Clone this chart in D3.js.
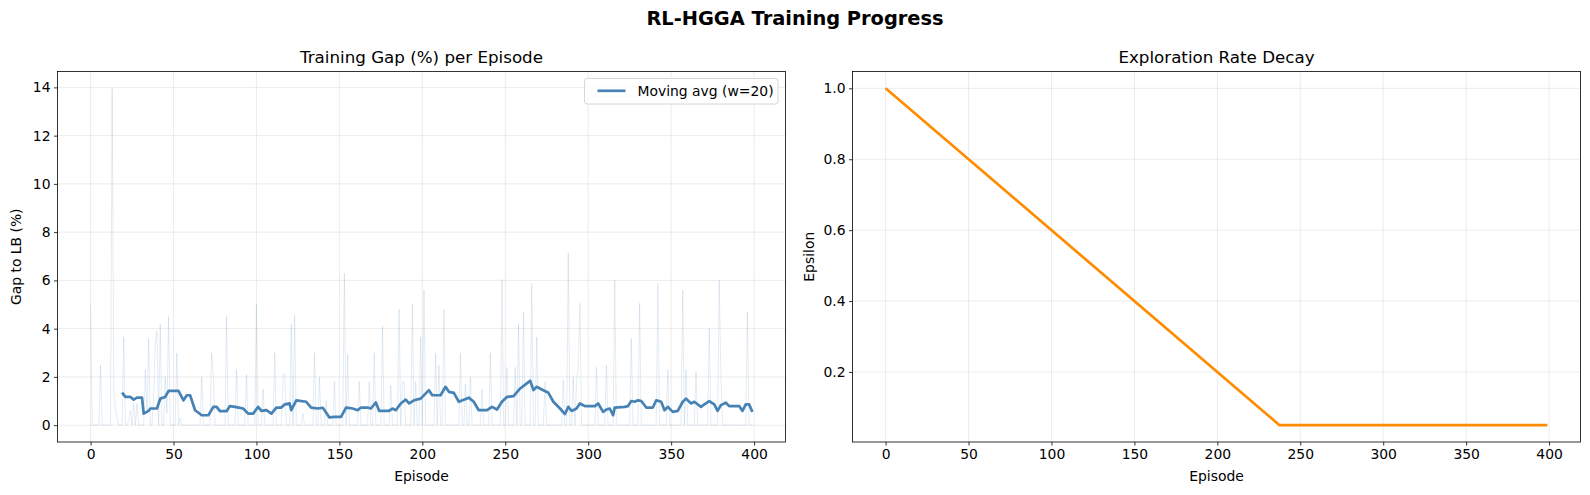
<!DOCTYPE html>
<html>
<head>
<meta charset="utf-8">
<script src="https://cdn.jsdelivr.net/npm/d3@7"></script>
<style>
  html, body { margin: 0; padding: 0; background: #fff; }
  svg { display: block; }
  text { font-family: "DejaVu Sans", sans-serif; fill: #000; }
</style>
</head>
<body>
<svg id="chart" width="1590" height="495"></svg>
<script>
// ---------------- DATA ----------------
const suptitle = "RL-HGGA Training Progress";
const leftTitle = "Training Gap (%) per Episode";
const rightTitle = "Exploration Rate Decay";
const xLabel = "Episode";
const leftYLabel = "Gap to LB (%)";
const rightYLabel = "Epsilon";
const legendLabel = "Moving avg (w=20)";

const xTicks = [0, 50, 100, 150, 200, 250, 300, 350, 400];
const gapTicks = [0, 2, 4, 6, 8, 10, 12, 14];
const epsTicks = [0.2, 0.4, 0.6, 0.8, 1.0];

// raw gap per episode (0..399)
const rawGap = [
  5.0,0,0,0,0,0,2.5,0,0,0,0,0,0,13.96,1.45,0.6,0.3,0,0,0,
  3.66,0,0,0.2,0.6,0,0.9,0,0.9,0,0,0,0,2.3,0.5,3.6,0,0,1.2,3.4,
  3.9,0,4.2,0,0,2.0,0.5,4.5,0,0,0,0,3.0,0,0.3,0,0,0,0,0,
  0,0,0,0,0,0,0,2.0,0,0,0,0,0,3.0,2.1,0,0,0,0,0,
  0,0,4.5,0,0,0,0,0,2.3,0,0,0,0,0,2.1,0,0,0,0,0,
  5.0,0,0,0,1.5,0,0,0,0,0,0,3.0,0,0,0,0,2.1,2.1,0,0,
  0,4.2,0,4.55,0,0,0,0,0.5,0,0,0,0,0,0,3.0,0,0,2.0,0,
  0,0,1.0,0,0,0,0,1.8,0,0,0,0,0,6.29,0,2.95,0,0,0,0,
  0,0,1.8,0,0,0,0,0,1.8,0,0,3.0,0,0,0,0,4.1,0,0,0,
  0,1.66,0,0,0,0,4.8,0,1.8,1.8,0,0,0,0,5.0,0,1.8,0,0,3.66,
  0,5.6,0,0,0,0,0,0,2.97,0,2.5,0,0,4.8,0,0,0,0,0,0,
  0,0,0,3.0,0,0,1.7,0,0,2.0,0,0,0,0,0,0,1.5,0,0,0,
  0,3.0,0,0,0,0,0,0,6.04,0,0,2.4,0,0,0,0,2.4,0,4.2,0,
  0,4.7,0,0,0,0,5.87,0,0,3.66,0,0,0,0,1.8,0,0,0,0,0,
  0,0,0,0,0,1.86,0,0,7.15,0,0,2.0,0,1.8,2.4,5.05,0,0,0,0,
  0,0,0,0,0,2.4,0,0,0,0,0,2.5,0,0,0,0,6.0,0,0,0,
  0,0,0,0,0,0,3.6,0,0,0,0,5.05,0,0,0,0,0,0,0,0,
  0,0,5.87,0,0,0,0,0,2.3,0,0,0,0,0,0,0,0,5.6,0,2.3,
  0,0,0,0,0,2.2,0,0,0,0,0,0,0,4.0,0,0,0,0,0,6.0,
  2.0,0,0,0,0,0,0,0,0,0,0,0,0,0,0,0,4.7,0,0,0
];

// moving average (w=20), read at these episodes
const maEpisodes = [19,21,24,26,28,31,32,35,36,40,42,45,47,53,56,58,60,63,67,71,74,76,78,82,84,87,92,95,98,101,103,106,109,112,115,117,120,121,124,130,133,137,140,144,147,151,154,158,161,163,167,169,172,174,180,182,184,187,190,192,195,199,204,206,211,214,216,219,222,228,231,234,239,242,245,248,251,255,259,263,265,267,269,272,276,279,283,286,288,290,293,295,298,304,306,309,311,313,315,316,322,324,326,328,330,332,335,339,341,344,346,348,351,354,357,359,362,364,368,370,373,376,378,380,383,385,391,393,395,397,399];
const maValues = [1.35,1.17,1.17,1.06,1.14,1.14,0.48,0.59,0.69,0.69,1.1,1.17,1.42,1.42,1.03,1.24,1.24,0.62,0.41,0.41,0.76,0.76,0.58,0.58,0.79,0.76,0.69,0.48,0.48,0.76,0.59,0.62,0.48,0.73,0.73,0.86,0.9,0.62,1.03,0.97,0.73,0.69,0.72,0.32,0.34,0.34,0.73,0.69,0.62,0.73,0.73,0.69,0.94,0.59,0.59,0.69,0.62,0.9,1.06,0.9,1.03,1.1,1.45,1.24,1.24,1.59,1.38,1.34,0.97,1.14,0.97,0.62,0.62,0.76,0.65,0.97,1.17,1.2,1.52,1.73,1.84,1.45,1.59,1.48,1.34,0.97,0.69,0.46,0.76,0.59,0.69,0.9,0.79,0.79,0.9,0.55,0.65,0.69,0.41,0.73,0.76,0.79,1.0,0.97,1.03,1.0,0.73,0.73,1.03,0.97,0.62,0.76,0.55,0.59,0.97,1.1,0.9,0.97,0.76,0.86,1.0,0.86,0.59,0.83,0.93,0.79,0.79,0.59,0.86,0.86,0.55];

// epsilon schedule breakpoints
const epsEpisodes = [0, 237.5, 399];
const epsValues = [1.0, 0.05, 0.05];

// ---------------- LAYOUT ----------------
const svg = d3.select("#chart");
const axTop = 71.5, axBottom = 442;
const leftBox = { x0: 57.5, x1: 785.5 };
const rightBox = { x0: 852.5, x1: 1580.5 };
const FS = 13.9;
const gridColor = "#b0b0b0";

svg.append("rect").attr("width", 1590).attr("height", 495).attr("fill", "#fff");

function pad(ext, frac) { const d = (ext[1] - ext[0]) * frac; return [ext[0] - d, ext[1] + d]; }
const xDomain = pad([0, rawGap.length - 1], 0.05);

function makeAxes(box, yDomain, yTicks, yFmt, title, yLabel, yLabelX, id) {
  const x = d3.scaleLinear().domain(xDomain).range([box.x0, box.x1]);
  const y = d3.scaleLinear().domain(yDomain).range([axBottom, axTop]);
  const g = svg.append("g");
  svg.append("clipPath").attr("id", id).append("rect")
    .attr("x", box.x0).attr("y", axTop).attr("width", box.x1 - box.x0).attr("height", axBottom - axTop);

  // grid
  const grid = g.append("g").attr("stroke", gridColor).attr("stroke-opacity", 0.3).attr("stroke-width", 0.8);
  xTicks.forEach(t => grid.append("line").attr("x1", x(t)).attr("x2", x(t)).attr("y1", axTop).attr("y2", axBottom));
  yTicks.forEach(t => grid.append("line").attr("x1", box.x0).attr("x2", box.x1).attr("y1", y(t)).attr("y2", y(t)));

  const plot = g.append("g").attr("clip-path", `url(#${id})`);

  // axes via d3
  const xAxis = d3.axisBottom(x).tickValues(xTicks).tickSize(3.5).tickPadding(3.5).tickFormat(d3.format("d"));
  const yAxis = d3.axisLeft(y).tickValues(yTicks).tickSize(3.5).tickPadding(3.5).tickFormat(yFmt);
  const axG = svg.append("g");
  const xa = axG.append("g").attr("transform", `translate(0,${axBottom})`).call(xAxis);
  const ya = axG.append("g").attr("transform", `translate(${box.x0},0)`).call(yAxis);
  [xa, ya].forEach(a => {
    a.select(".domain").remove();
    a.selectAll("line").attr("stroke", "#000").attr("stroke-width", 0.8);
    a.selectAll("text").attr("font-family", "DejaVu Sans").attr("font-size", FS).attr("fill", "#000");
  });
  // spines
  axG.append("rect").attr("x", box.x0).attr("y", axTop).attr("width", box.x1 - box.x0).attr("height", axBottom - axTop)
    .attr("fill", "none").attr("stroke", "#000").attr("stroke-width", 0.8);

  // titles
  svg.append("text").attr("x", (box.x0 + box.x1) / 2).attr("y", axTop - 8.3)
    .attr("text-anchor", "middle").attr("font-size", 16.7).text(title);
  svg.append("text").attr("x", (box.x0 + box.x1) / 2).attr("y", 481)
    .attr("text-anchor", "middle").attr("font-size", FS).text(xLabel);
  svg.append("text").attr("transform", `translate(${yLabelX},${(axTop + axBottom) / 2}) rotate(-90)`)
    .attr("text-anchor", "middle").attr("font-size", FS).text(yLabel);
  return { x, y, plot };
}

// suptitle
svg.append("text").attr("x", 795).attr("y", 24.5).attr("text-anchor", "middle")
  .attr("font-size", 19.4).attr("font-weight", "bold").text(suptitle);

// left chart
const gapMax = d3.max(rawGap);
const L = makeAxes(leftBox, pad([0, gapMax], 0.05), gapTicks, d3.format("d"), leftTitle, leftYLabel, 20.5, "clipL");
L.plot.append("path")
  .datum(rawGap.map((v, i) => [i, v]))
  .attr("d", d3.line().x(d => L.x(d[0])).y(d => L.y(d[1])))
  .attr("fill", "none").attr("stroke", "steelblue").attr("stroke-opacity", 0.25).attr("stroke-width", 0.6);
L.plot.append("path")
  .datum(maEpisodes.map((e, i) => [e, maValues[i]]))
  .attr("d", d3.line().x(d => L.x(d[0])).y(d => L.y(d[1])))
  .attr("fill", "none").attr("stroke", "steelblue").attr("stroke-width", 2.7).attr("stroke-linejoin", "round");

// legend
const lg = svg.append("g");
lg.append("rect").attr("x", 584.5).attr("y", 78.5).attr("width", 193.5).attr("height", 25.5).attr("rx", 2.8)
  .attr("fill", "#fff").attr("fill-opacity", 0.8).attr("stroke", "#cccccc").attr("stroke-width", 0.8);
lg.append("line").attr("x1", 597.5).attr("x2", 625.5).attr("y1", 90.8).attr("y2", 90.8)
  .attr("stroke", "steelblue").attr("stroke-width", 2.7);
lg.append("text").attr("x", 637.5).attr("y", 95.8).attr("font-size", FS).text(legendLabel);

// right chart
const R = makeAxes(rightBox, pad([d3.min(epsValues), d3.max(epsValues)], 0.05), epsTicks, d3.format(".1f"), rightTitle, rightYLabel, 814, "clipR");
R.plot.append("path")
  .datum(epsEpisodes.map((e, i) => [e, epsValues[i]]))
  .attr("d", d3.line().x(d => R.x(d[0])).y(d => R.y(d[1])))
  .attr("fill", "none").attr("stroke", "darkorange").attr("stroke-width", 2.7).attr("stroke-linejoin", "round");
</script>
</body>
</html>
